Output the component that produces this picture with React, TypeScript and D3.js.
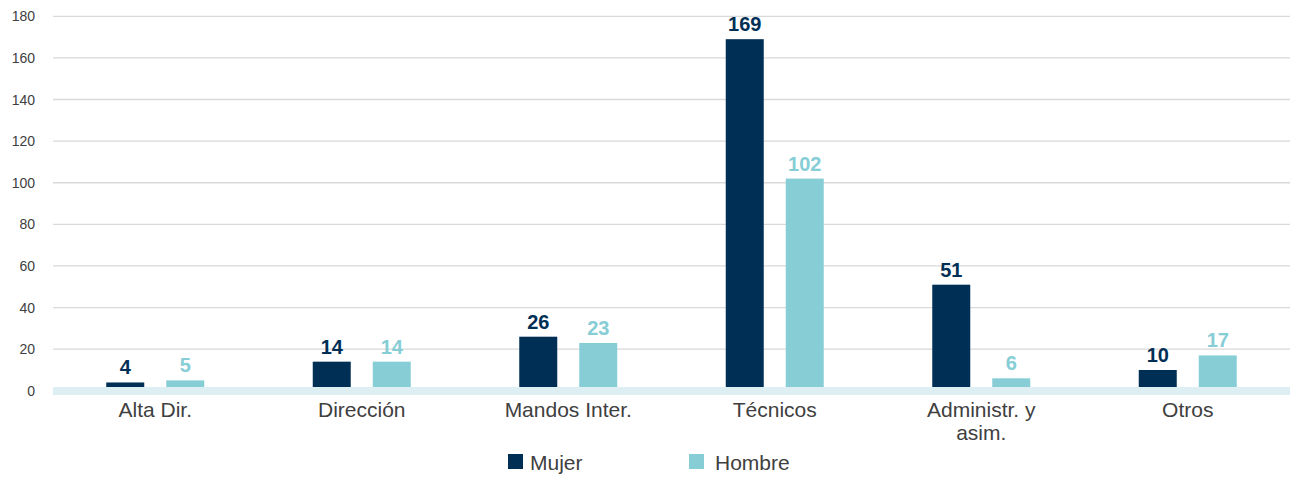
import React from "react";
import * as d3 from "d3";

const categories = ["Alta Dir.", "Dirección", "Mandos Inter.", "Técnicos", "Administr. y\nasim.", "Otros"];
const mujer = [4, 14, 26, 169, 51, 10];
const hombre = [5, 14, 23, 102, 6, 17];
const yTicks = [0, 20, 40, 60, 80, 100, 120, 140, 160, 180];
const seriesNames = ["Mujer", "Hombre"];

const W = 1290;
const H = 478;
const DARK = "#002f55";
const LIGHT = "#86cdd6";
const FONT = "'Liberation Sans', Arial, sans-serif";

export default function App() {
  const left = 52;
  const right = 1291;
  const y = d3.scaleLinear().domain([0, 180]).range([390.8, 16.3]);
  const x = d3.scaleBand<string>().domain(categories).range([left, right]).padding(0);
  const off = 30;
  const bw = 38;

  return (
    <svg width={W} height={H} style={{ position: "absolute", left: 0, top: 0 }}>
      <rect width={W} height={H} fill="#fff" />
      {yTicks.map((t) => (
        <g key={t}>
          {t > 0 && <line x1={left + 1} x2={right} y1={y(t)} y2={y(t)} stroke="#d9d9d9" strokeWidth={1.3} />}
          <text x={35} y={y(t) + 5} textAnchor="end" fontFamily={FONT} fontSize={14} fill="#404040">{t}</text>
        </g>
      ))}
      {categories.map((c, i) => {
        const cx = (x(c) as number) + x.bandwidth() / 2;
        const lines = c.split("\n");
        return (
          <g key={c}>
            <rect x={cx - off - bw / 2} y={y(mujer[i])} width={bw} height={y(0) - y(mujer[i])} fill={DARK} />
            <rect x={cx + off - bw / 2} y={y(hombre[i])} width={bw} height={y(0) - y(hombre[i])} fill={LIGHT} />
            <text x={cx - off} y={y(mujer[i]) - 8} textAnchor="middle" fontFamily={FONT} fontWeight="bold" fontSize={20} fill={DARK}>{mujer[i]}</text>
            <text x={cx + off} y={y(hombre[i]) - 8} textAnchor="middle" fontFamily={FONT} fontWeight="bold" fontSize={20} fill={LIGHT}>{hombre[i]}</text>
            {lines.map((l, j) => (
              <text key={j} x={cx} y={417 + j * 23} textAnchor="middle" fontFamily={FONT} fontSize={21} fill="#404040">{l}</text>
            ))}
          </g>
        );
      })}
      <rect x={left + 1} y={387} width={right - left} height={8} fill="#ddeff3" />
      {seriesNames.map((s, i) => {
        const lx = i === 0 ? 508 : 689;
        return (
          <g key={s}>
            <rect x={lx} y={454} width={15} height={15} fill={i === 0 ? DARK : LIGHT} />
            <text x={lx + (i === 0 ? 22 : 26)} y={470} fontFamily={FONT} fontSize={21} fill="#404040">{s}</text>
          </g>
        );
      })}
    </svg>
  );
}
